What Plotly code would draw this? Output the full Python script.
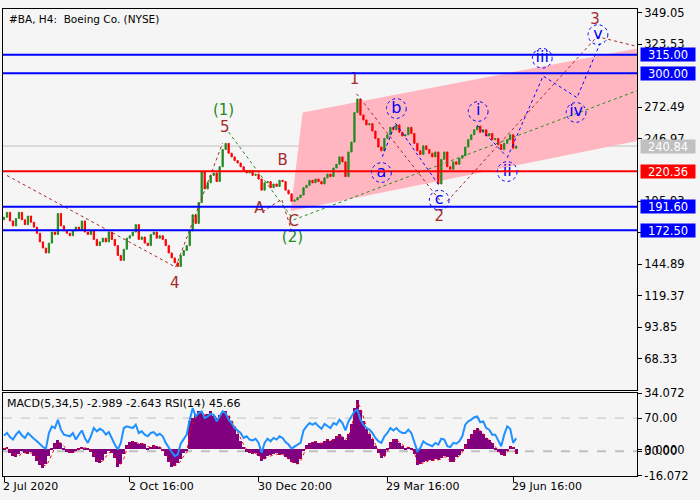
import plotly.graph_objects as go

# --- H4 closes (every 3rd bar) ---
closes = [
    183, 187, 180, 176, 182, 187, 181, 177, 184, 179,
    175, 170, 163, 158, 154, 162, 171, 169, 186, 176,
    172, 170, 168, 172, 175, 173, 180, 171, 169, 172,
    165, 160, 163, 166, 163, 171, 165, 160, 152, 148,
    157, 166, 168, 171, 177, 165, 167, 162, 160, 169,
    171, 166, 168, 165, 160, 154, 150, 146, 143, 152,
    156, 160, 172, 185, 178, 195, 220, 206, 211, 217,
    219, 212, 224, 238, 243, 235, 232, 229, 227, 224,
    221, 219, 221, 217, 218, 214, 205, 211, 212, 207,
    210, 208, 213, 212, 205, 202, 196, 197, 199, 201,
    207, 209, 213, 211, 214, 212, 210, 215, 218, 216,
    223, 226, 232, 228, 216, 236, 244, 268, 279, 266,
    262, 258, 259, 253, 247, 240, 237, 247, 250, 256,
    254, 258, 252, 249, 250, 256, 251, 243, 237, 234,
    241, 238, 235, 232, 236, 210, 230, 236, 224, 222,
    228, 226, 231, 233, 240, 246, 250, 254, 257, 252,
    254, 249, 251, 246, 247, 242, 238, 243, 246, 250,
    239, 240.84,
]
first_open = 181.0

macd_hist = [
    1.0, 1.5, -2.0, -4.0, -4.5, -3.0, -1.0, -2.5, -3.0, -1.5,
    -4.0, -7.0, -9.5, -11.5, -9.0, -4.0, 1.0, 4.0, 5.5, 3.5,
    1.0, -1.5, -2.5, -2.0, -0.5, 1.0, 1.5, 1.0, 0.5, -1.5,
    -5.0, -7.5, -8.5, -6.5, -3.0, -1.0, -2.0, -5.5, -10.5, -9.0,
    -3.0, 2.5, 4.5, 5.0, 4.5, 3.0, 4.0, 3.0, 1.0, 1.5,
    2.5, 2.0, 1.5, -0.5, -4.0, -7.5, -10.5, -10.0, -8.5, -6.0,
    -2.5, -1.0, 17.0, 19.0, 21.0, 23.0, 22.0, 20.5, 21.5, 23.0,
    20.0, 19.0, 20.5, 22.5, 23.0, 20.0, 17.0, 13.0, 9.0, 5.0,
    1.5, -1.5, -2.0, -3.0, -2.5, -4.0, -7.0, -6.0, -4.0, -3.5,
    -3.0, -2.5, -3.5, -3.0, -4.5, -6.0, -8.0, -8.5, -9.0, -6.0,
    -1.0, 2.5, 4.0, 4.5, 5.0, 4.0, 3.5, 5.0, 6.5, 5.0,
    6.0, 8.0, 9.0, 7.5, 5.5, 9.0, 15.0, 25.0, 30.0, 24.0,
    17.0, 12.0, 9.0, 6.0, 2.0, -2.0, -5.5, -4.0, 0.5, 4.5,
    6.5, 6.0, 4.0, 2.0, 1.0, 1.5, 0.5, -3.0, -9.5, -9.0,
    -7.5, -7.0, -6.5, -7.0, -6.0, -6.5, -5.5, -4.0, -5.0, -8.0,
    -7.5, -5.0, -3.5, -1.0, 3.0, 6.0, 9.0, 11.5, 13.0, 11.0,
    9.0, 7.0, 5.5, 3.5, 1.0, -1.5, -3.5, -4.0, -1.0, 2.0,
    1.5, -2.989,
]

macd_signal = [
    0.5, 1.0, 0.0, -2.0, -3.5, -3.8, -2.5, -2.0, -2.5, -2.0,
    -2.8, -5.0, -7.5, -9.5, -9.8, -7.0, -3.0, 1.5, 4.0, 4.0,
    2.0, 0.0, -1.5, -2.0, -1.2, 0.0, 1.0, 1.0, 0.8, -0.5,
    -3.0, -5.5, -7.5, -7.0, -4.5, -2.0, -1.8, -4.0, -8.0, -9.0,
    -5.5, 0.0, 3.0, 4.5, 4.5, 3.5, 3.5, 3.2, 1.8, 1.4,
    2.0, 2.0, 1.6, 0.3, -2.5, -5.5, -8.5, -9.8, -9.0, -7.0,
    -4.0, -2.0, 10.0, 16.0, 19.5, 22.0, 22.0, 21.0, 21.0, 22.0,
    21.0, 19.5, 20.0, 21.5, 22.5, 21.0, 18.0, 14.5, 10.5, 6.5,
    3.0, 0.0, -1.5, -2.5, -2.5, -3.5, -5.5, -6.0, -4.5, -3.8,
    -3.2, -2.8, -3.2, -3.0, -4.0, -5.5, -7.5, -8.3, -8.8, -7.0,
    -2.5, 1.0, 3.2, 4.2, 4.8, 4.2, 3.7, 4.5, 6.0, 5.3,
    5.8, 7.5, 8.7, 7.8, 6.0, 8.0, 13.0, 22.0, 28.5, 25.5,
    19.0, 13.5, 10.0, 7.0, 3.0, -1.0, -4.5, -4.5, -1.0, 3.0,
    5.8, 6.0, 4.5, 2.5, 1.3, 1.3, 0.8, -2.0, -7.5, -8.8,
    -8.0, -7.2, -6.8, -6.8, -6.2, -6.3, -5.8, -4.5, -4.8, -7.0,
    -7.5, -5.8, -4.0, -1.8, 1.8, 5.0, 8.0, 10.5, 12.5, 11.5,
    9.5, 7.5, 6.0, 4.0, 1.8, -0.8, -2.8, -3.8, -1.8, 1.0,
    1.2, -2.643,
]

rsi = [
    49, 52, 47, 44, 50, 54, 49, 46, 52, 48,
    45, 42, 38, 35, 33, 52, 60, 58, 68, 56,
    50, 49, 48, 52, 44, 50, 55, 46, 40, 48,
    58, 54, 57, 55, 50, 53, 45, 38, 32, 40,
    58, 60, 59, 58, 62, 52, 54, 50, 48, 52,
    53, 49, 51, 48, 40, 34, 29, 24, 26, 39,
    44, 50, 68, 82, 72, 76, 78, 70, 72, 75,
    74, 66, 72, 78, 76, 68, 64, 58, 55, 52,
    46, 48, 44, 43, 45, 40, 28, 40, 45, 42,
    46, 44, 48, 46, 41, 38, 33, 36, 38, 40,
    55, 60, 64, 62, 64, 60, 57, 63, 60, 58,
    64, 62, 68, 64, 55, 66, 72, 78, 80, 68,
    62, 58, 56, 52, 46, 42, 40, 48, 52, 58,
    55, 58, 54, 52, 52, 56, 52, 42, 30, 34,
    42, 39, 37, 36, 40, 38, 45, 44, 36, 35,
    40, 39, 42, 48, 62, 66, 68, 71, 72, 65,
    66, 58, 56, 50, 50, 42, 36, 50, 60, 57,
    40, 45.66,
]

# --- levels and axis labels ---
blue_levels = [315.00, 300.00, 191.60, 172.50]
red_level = 220.36
last_price = 240.84
price_ticks = [349.05, 323.53, 272.49, 246.97, 195.93,
               170.41, 144.89, 119.37, 93.85, 68.33]
date_ticks = [0, 42, 85, 128, 170]
date_labels = ["2 Jul 2020", "2 Oct 16:00", "30 Dec 20:00", "29 Mar 16:00", "29 Jun 16:00"]

# --- wave markup (bar, price) ---
brown_labels = [(57, 128.9, "4"), (73.7, 255.3, "5"), (85.3, 189.7, "A"), (93, 228.1, "B"),
                (96.7, 179.3, "C"), (117, 294.5, "1"), (145.3, 183.3, "2"), (197.3, 343.3, "3")]
green_labels = [(73.3, 268.9, "(1)"), (96.3, 165.7, "(2)")]
circled_labels = [(126, 219.3, "a"), (131, 271.3, "b"), (145.3, 196.9, "c"), (158.3, 268.9, "i"),
                  (168, 220.1, "ii"), (179.7, 312.1, "iii"), (191, 268.1, "iv"), (198.3, 331.3, "v")]

brown_paths = [
    ([1, 57.3, 73], [216.9, 142.5, 243.3]),
    ([86.3, 92.7, 96.3], [187.3, 197.7, 169.7]),
    ([117.7, 145.7], [283.3, 196.1]),
    ([148, 198, 211.3], [196.1, 329.7, 321.7]),
]
green_paths = [
    ([75, 96], [252.1, 183.3]),
    ([96.7, 211.3], [180.9, 285.7]),
]
blue_paths = [
    ([126.3, 130.7, 145], [232.1, 259.3, 209.7]),
    ([158, 167.3], [257.7, 233.7]),
    ([168, 180, 191.3, 199], [231.3, 297.7, 280.1, 324.1]),
]
channel_bars = [95.7, 99.7, 211.3, 211.3]
channel_prices = [188.1, 268.1, 320.1, 244.9]

BROWN = "#a52a2a"
GREEN = "#228b22"
BLUE = "#0000ff"
FONT = "DejaVu Sans"

bars = list(range(len(closes)))
opens = [first_open] + closes[:-1]
highs = [max(o, c) for o, c in zip(opens, closes)]
lows = [min(o, c) for o, c in zip(opens, closes)]

fig = go.Figure()

fig.add_trace(go.Candlestick(
    x=bars, open=opens, high=highs, low=lows, close=closes,
    increasing=dict(line=dict(color=GREEN, width=1), fillcolor=GREEN),
    decreasing=dict(line=dict(color="#ff0000", width=1), fillcolor="#ff0000"),
    whiskerwidth=0,
))

for px_, py_ in brown_paths:
    fig.add_trace(go.Scatter(x=px_, y=py_, mode="lines", line=dict(color=BROWN, width=1, dash="dot")))
for px_, py_ in green_paths:
    fig.add_trace(go.Scatter(x=px_, y=py_, mode="lines", line=dict(color=GREEN, width=1, dash="dot")))
for px_, py_ in blue_paths:
    fig.add_trace(go.Scatter(x=px_, y=py_, mode="lines", line=dict(color=BLUE, width=1, dash="dot")))

fig.add_trace(go.Scatter(x=[l[0] for l in brown_labels], y=[l[1] for l in brown_labels],
                         text=[l[2] for l in brown_labels], mode="text",
                         textfont=dict(family=FONT, size=15, color=BROWN)))
fig.add_trace(go.Scatter(x=[l[0] for l in green_labels], y=[l[1] for l in green_labels],
                         text=[l[2] for l in green_labels], mode="text",
                         textfont=dict(family=FONT, size=15, color=GREEN)))
fig.add_trace(go.Scatter(x=[l[0] for l in circled_labels], y=[l[1] for l in circled_labels],
                         text=[l[2] for l in circled_labels], mode="text",
                         textfont=dict(family=FONT, size=16, color=BLUE)))

# --- lower panel: MACD histogram + signal, RSI ---
fig.add_trace(go.Bar(x=bars, y=macd_hist, marker=dict(color="#800080", line=dict(width=0)),
                     xaxis="x2", yaxis="y2"))
fig.add_trace(go.Scatter(x=bars, y=macd_signal, mode="lines", line=dict(color="#ff0000", width=1, dash="dot"),
                         xaxis="x2", yaxis="y2"))
fig.add_trace(go.Scatter(x=bars, y=rsi, mode="lines", line=dict(color="#1e90ff", width=2),
                         xaxis="x2", yaxis="y3"))

# pink channel as a shape below the candles
chan_path = "M " + " L ".join(f"{b},{p}" for b, p in zip(channel_bars, channel_prices)) + " Z"
shapes = [dict(type="path", xref="x", yref="y", path=chan_path, fillcolor="#ffb6c1",
               line=dict(width=0), layer="below")]
shapes.append(dict(type="line", xref="x domain", yref="y", x0=0, x1=1, y0=last_price, y1=last_price,
                   line=dict(color="#c0c0c0", width=1), layer="below"))
for lvl in blue_levels:
    shapes.append(dict(type="line", xref="x domain", yref="y", x0=0, x1=1, y0=lvl, y1=lvl,
                       line=dict(color=BLUE, width=2)))
shapes.append(dict(type="line", xref="x domain", yref="y", x0=0, x1=1, y0=red_level, y1=red_level,
                   line=dict(color="#ff0000", width=2)))
for lvl, w in [(70, 1), (30, 2)]:
    shapes.append(dict(type="line", xref="x2 domain", yref="y3", x0=0, x1=1, y0=lvl, y1=lvl,
                       line=dict(color="#c0c0c0", width=w, dash="dash"), layer="below"))
# dotted circles round the minor-wave labels (radius ~10 px)
for bx, by, _ in circled_labels:
    shapes.append(dict(type="circle", xref="x", yref="y", x0=bx - 3.3, x1=bx + 3.3, y0=by - 8, y1=by + 8,
                       line=dict(color=BLUE, width=1, dash="dot")))

annotations = [
    dict(text="#BA, H4:  Boeing Co. (NYSE)", xref="paper", yref="paper", x=0.006, y=0.979,
         xanchor="left", yanchor="middle", showarrow=False, font=dict(family=FONT, size=10.5, color="black")),
    dict(text="MACD(5,34,5) -2.989 -2.643 RSI(14) 45.66", xref="paper", yref="paper", x=0.003, y=0.156,
         xanchor="left", yanchor="middle", showarrow=False, font=dict(family=FONT, size=11, color="black")),
]
for t, lab in zip(date_ticks, date_labels):
    annotations.append(dict(text=lab, xref="x2", yref="paper", x=t, y=-0.023, xanchor="left",
                            yanchor="middle", showarrow=False, xshift=-3,
                            font=dict(family=FONT, size=11, color="black")))
tags = [(v, BLUE) for v in blue_levels] + [(red_level, "#ff0000"), (last_price, "#c0c0c0")]
for v, col in tags:
    annotations.append(dict(text=f"{v:.2f}", xref="paper", yref="y", x=1, y=v, xanchor="left",
                            yanchor="middle", xshift=3, showarrow=False, bgcolor=col, width=54, height=13,
                            borderpad=0, font=dict(family=FONT, size=11.5, color="white")))

axis_common = dict(showline=True, linecolor="black", linewidth=1, mirror=True, showgrid=False,
                   zeroline=False, tickfont=dict(family=FONT, size=11.5, color="black"))

fig.update_layout(
    width=700, height=500,
    margin=dict(l=2, r=63, t=2, b=24),
    paper_bgcolor="#f5f5f5", plot_bgcolor="#f5f5f5",
    showlegend=False, bargap=0, boxgap=0.4,
    xaxis=dict(domain=[0, 1], anchor="y", range=[-0.333, 211.333], showticklabels=False,
               rangeslider=dict(visible=False), **axis_common),
    yaxis=dict(domain=[0.1835, 1], anchor="x", side="right", range=[42.49, 352.09],
               tickvals=price_ticks, ticktext=[f"{v:.2f}" for v in price_ticks],
               ticks="outside", ticklen=4, tickcolor="black", **axis_common),
    xaxis2=dict(domain=[0, 1], anchor="y2", range=[-0.333, 211.333], matches="x",
                tickvals=date_ticks, showticklabels=False, ticks="outside", ticklen=5,
                tickcolor="black", **axis_common),
    yaxis2=dict(domain=[0, 0.1772], anchor="x2", side="right", range=[-16.072, 34.072],
                tickvals=[34.072, 0, -16.072], ticktext=["34.072", "0.0000", "-16.072"],
                ticks="outside", ticklen=4, tickcolor="black", **axis_common),
    yaxis3=dict(overlaying="y2", anchor="x2", side="right", range=[0, 100],
                tickvals=[70, 30], ticktext=["70.00", "30.00"], ticks="outside", ticklen=4,
                tickcolor="black", showgrid=False, zeroline=False,
                tickfont=dict(family=FONT, size=11.5, color="black")),
    shapes=shapes,
    annotations=annotations,
)

# browser default body margin would shift the 700x500 figure off the window
fig.write_html("out.html", config={"displayModeBar": False},
               post_script="document.body.style.margin='0px';")
